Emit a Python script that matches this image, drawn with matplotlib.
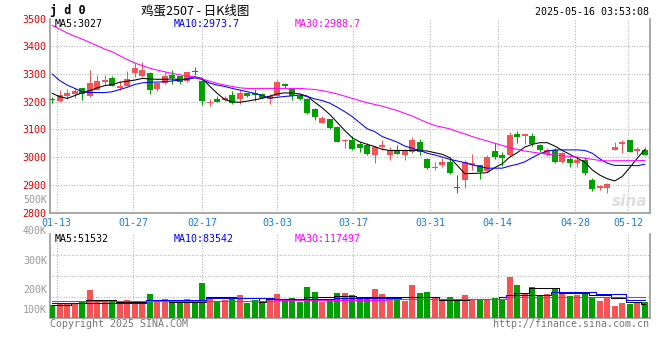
import numpy as np
import matplotlib
matplotlib.use("Agg")
import matplotlib.pyplot as plt

# daily K-line for 鸡蛋2507, 80 sessions from 01-10 to 05-15
opens = [3209, 3202, 3222, 3226, 3249, 3220, 3244, 3270, 3286, 3251,
         3258, 3303, 3291, 3303, 3246, 3268, 3297, 3291, 3276, 3310,
         3276, 3197, 3211, 3207, 3225, 3211, 3231, 3233, 3228, 3210,
         3221, 3264, 3245, 3219, 3211, 3174, 3124, 3136, 3110, 3058,
         3061, 3048, 3042, 3009, 3038, 3009, 3026, 3006, 3018, 3056,
         2994, 2960, 2973, 2984, 2890, 2916, 2972, 2970, 2949, 3022,
         3008, 3006, 3082, 3076, 3076, 3042, 3012, 3024, 2982, 2994,
         2979, 2990, 2919, 2889, 2889, 3027, 3048, 3060, 3022, 3024]
highs = [3216, 3243, 3245, 3249, 3251, 3315, 3297, 3296, 3293, 3276,
         3312, 3339, 3344, 3309, 3266, 3308, 3314, 3293, 3308, 3327,
         3282, 3210, 3221, 3221, 3240, 3243, 3233, 3245, 3231, 3228,
         3278, 3268, 3249, 3228, 3213, 3176, 3150, 3138, 3112, 3065,
         3075, 3056, 3052, 3040, 3060, 3036, 3044, 3030, 3072, 3064,
         2997, 2984, 2996, 3002, 2936, 2991, 3012, 2972, 3008, 3050,
         3018, 3090, 3096, 3084, 3088, 3048, 3032, 3032, 3018, 3000,
         3004, 3000, 2924, 2901, 2906, 3054, 3060, 3062, 3038, 3036]
lows = [3194, 3200, 3211, 3213, 3207, 3218, 3241, 3261, 3255, 3244,
        3256, 3288, 3288, 3228, 3239, 3265, 3264, 3264, 3272, 3296,
        3188, 3183, 3198, 3201, 3193, 3190, 3216, 3201, 3212, 3193,
        3219, 3249, 3205, 3205, 3154, 3134, 3122, 3102, 3054, 3033,
        3025, 3020, 3008, 2978, 3024, 2991, 3012, 2991, 3016, 3008,
        2958, 2955, 2966, 2940, 2871, 2889, 2955, 2922, 2947, 2994,
        2968, 3000, 3052, 3048, 3040, 3020, 3005, 2978, 2980, 2966,
        2966, 2936, 2879, 2883, 2871, 3024, 3015, 3020, 3006, 3006]
closes = [3207, 3225, 3230, 3240, 3227, 3266, 3276, 3280, 3258, 3258,
          3282, 3320, 3315, 3244, 3266, 3291, 3287, 3272, 3308, 3308,
          3202, 3199, 3198, 3214, 3195, 3231, 3219, 3225, 3214, 3221,
          3270, 3257, 3219, 3210, 3160, 3144, 3140, 3104, 3056, 3060,
          3030, 3032, 3012, 3036, 3045, 3026, 3012, 3022, 3060, 3020,
          2961, 2966, 2982, 2942, 2888, 2982, 2978, 2946, 3000, 3000,
          2996, 3080, 3072, 3082, 3048, 3027, 3027, 2982, 3014, 2979,
          2991, 2942, 2886, 2894, 2904, 3038, 3056, 3020, 3030, 3009]

ma5 = [3230, 3218, 3212, 3222, 3232, 3240, 3250, 3258, 3262, 3270,
       3274, 3278, 3284, 3282, 3281, 3281, 3282, 3280, 3282, 3290,
       3284, 3256, 3230, 3208, 3199, 3198, 3202, 3207, 3212, 3220,
       3228, 3232, 3231, 3228, 3220, 3198, 3178, 3154, 3125, 3096,
       3070, 3055, 3046, 3038, 3028, 3024, 3024, 3024, 3024, 3024,
       3022, 3016, 3010, 2998, 2970, 2940, 2941, 2942, 2944, 2962,
       2976, 3000, 3016, 3036, 3046, 3052, 3052, 3040, 3024, 3010,
       2996, 2982, 2954, 2935, 2922, 2914, 2930, 2962, 2996, 3027]
ma10 = [3300, 3276, 3260, 3248, 3236, 3233, 3233, 3233, 3236, 3244,
        3252, 3262, 3268, 3270, 3271, 3272, 3275, 3278, 3281, 3286,
        3280, 3267, 3260, 3255, 3248, 3242, 3236, 3230, 3222, 3213,
        3216, 3219, 3221, 3224, 3219, 3210, 3204, 3195, 3180, 3164,
        3146, 3124, 3102, 3092, 3074, 3064, 3054, 3040, 3032, 3024,
        3014, 3008, 3000, 2992, 2986, 2980, 2972, 2966, 2960, 2960,
        2960, 2968, 2974, 2983, 2998, 3012, 3022, 3026, 3026, 3026,
        3026, 3024, 3014, 2994, 2978, 2970, 2970, 2970, 2969, 2974]
ma30 = [3475, 3462, 3448, 3436, 3426, 3414, 3402, 3390, 3380, 3366,
        3352, 3340, 3330, 3321, 3314, 3308, 3302, 3297, 3293, 3289,
        3282, 3274, 3266, 3260, 3255, 3250, 3248, 3248, 3248, 3248,
        3248, 3248, 3248, 3248, 3246, 3244, 3240, 3234, 3228, 3220,
        3212, 3204, 3196, 3190, 3184, 3176, 3168, 3158, 3148, 3136,
        3124, 3114, 3108, 3102, 3092, 3084, 3074, 3066, 3058, 3050,
        3042, 3034, 3028, 3022, 3018, 3014, 3010, 3008, 3005, 3002,
        3000, 2996, 2992, 2988, 2986, 2987, 2987, 2987, 2987, 2988]

# volume (K lots, as drawn on the panel scale)
volume = [125, 129, 135, 134, 142, 202, 150, 150, 150, 142,
          150, 142, 142, 180, 149, 155, 137, 142, 155, 150,
          237, 163, 142, 150, 162, 175, 137, 150, 137, 154,
          180, 150, 162, 142, 217, 192, 142, 150, 185, 185,
          175, 164, 167, 205, 179, 164, 164, 145, 225, 184,
          190, 162, 145, 167, 145, 175, 154, 154, 154, 159,
          155, 267, 225, 184, 217, 175, 179, 212, 180, 172,
          175, 180, 167, 147, 162, 120, 137, 130, 134, 142]
vol_ma5 = [125, 125, 125, 134, 134, 150, 150, 150, 150, 142,
           142, 142, 142, 150, 150, 150, 142, 142, 142, 142,
           142, 164, 164, 164, 164, 159, 159, 159, 142, 154,
           154, 154, 154, 154, 164, 164, 164, 164, 172, 172,
           172, 167, 167, 167, 167, 167, 167, 167, 167, 167,
           167, 167, 150, 150, 150, 150, 154, 154, 154, 154,
           167, 167, 187, 187, 209, 209, 209, 209, 184, 184,
           184, 184, 175, 175, 175, 162, 162, 142, 142, 129]
vol_ma10 = [134, 134, 134, 134, 137, 137, 137, 137, 137, 137,
            137, 137, 137, 150, 150, 150, 150, 150, 150, 150,
            150, 159, 159, 159, 159, 159, 159, 159, 159, 159,
            155, 155, 155, 155, 155, 155, 155, 155, 162, 162,
            162, 162, 162, 162, 162, 162, 162, 155, 155, 155,
            155, 155, 155, 155, 155, 155, 155, 155, 155, 155,
            155, 175, 175, 175, 175, 175, 175, 192, 192, 192,
            192, 192, 192, 179, 179, 179, 179, 150, 150, 150]
vol_ma30 = [145, 145, 145, 145, 145, 145, 145, 145, 145, 145,
            145, 145, 145, 145, 145, 145, 145, 145, 145, 145,
            145, 145, 145, 145, 145, 145, 145, 145, 145, 145,
            152, 152, 152, 152, 152, 152, 152, 152, 152, 152,
            152, 152, 152, 152, 152, 155, 155, 155, 155, 155,
            155, 155, 155, 155, 155, 155, 155, 155, 155, 155,
            155, 167, 167, 167, 167, 167, 167, 167, 167, 167,
            167, 167, 167, 167, 167, 167, 167, 167, 167, 167]

date_labels = ['01-13', '01-27', '02-17', '03-03', '03-17', '03-31', '04-14', '04-28', '05-12']
date_pos = [0.6, 10.8, 20.0, 30.0, 40.1, 50.4, 59.4, 69.7, 76.8]
price_ticks = [2800, 2900, 3000, 3100, 3200, 3300, 3400, 3500]

RED = '#f45454'
GREEN = '#00a000'
GRID = '#a8a8a8'
MONO = 'DejaVu Sans Mono'

W, H = 660, 360
fig = plt.figure(figsize=(W / 100, H / 100), dpi=100)
fig.patch.set_facecolor('white')


def fx(px):
    return px / W


def fy(py):
    return 1 - py / H


def ptext(x, y, s, **kw):
    kw.setdefault('family', MONO)
    kw.setdefault('fontsize', 7.2)
    kw.setdefault('va', 'center')
    fig.text(fx(x), fy(y), s, **kw)


ax = fig.add_axes([fx(50), fy(212.5), 600 / W, (212.5 - 18.6) / H])
axv = fig.add_axes([fx(50), fy(318.3), 600 / W, (318.3 - 234) / H])

o = np.array(opens, float)
c = np.array(closes, float)
x = np.arange(len(o))
up = c >= o
colors = np.where(up, RED, GREEN)

# candles
ax.vlines(x, lows, highs, colors=colors, linewidth=0.72, zorder=3)
body_lo = np.minimum(o, c)
body_h = np.maximum(np.abs(c - o), 2.5)
ax.bar(x, body_h, bottom=body_lo, width=0.8, color=colors, linewidth=0, zorder=4)

ax.plot(x, ma5, color='black', lw=0.75, zorder=5)
ax.plot(x, ma10, color='#0000ff', lw=0.75, zorder=5)
ax.plot(x, ma30, color='#ff00ff', lw=0.75, zorder=5)

ax.set_xlim(-0.3, 79.7)
ax.set_ylim(2800, 3500)
ax.set_yticks(price_ticks)
ax.set_yticklabels([str(t) for t in price_ticks], color='#e00000', family=MONO, fontsize=7.2)
ax.set_xticks(date_pos)
ax.set_xticklabels(date_labels, color='#1a7fd4', family=MONO, fontsize=7.2)
ax.tick_params(length=0, pad=3)
ax.tick_params(axis='x', pad=4)
ax.grid(True, color=GRID, linestyle=(0, (0.8, 1.6)), linewidth=0.8)
ax.yaxis.get_gridlines()[-1].set_visible(False)
ax.set_axisbelow(True)

# volume panel
vlo, vhi = 60, 480
axv.bar(x, volume, width=0.8, color=colors, linewidth=0, zorder=3)
axv.plot(x, vol_ma5, color='black', lw=0.75, drawstyle='steps-mid', zorder=4)
axv.plot(x, vol_ma10, color='#0000ff', lw=0.75, drawstyle='steps-mid', zorder=4)
axv.plot(x, vol_ma30, color='#ff00ff', lw=0.75, drawstyle='steps-mid', zorder=4)
axv.set_xlim(-0.3, 79.7)
axv.set_ylim(vlo, vhi)
axv.set_yticks(np.linspace(vlo, vhi, 5)[1:4])
axv.set_yticklabels([])
axv.set_xticks(date_pos)
axv.set_xticklabels([])
axv.tick_params(length=0)
axv.grid(True, color=GRID, linestyle=(0, (0.8, 1.6)), linewidth=0.8)
axv.set_axisbelow(True)

for a in (ax, axv):
    a.spines['top'].set_visible(False)
    for s in ('left', 'bottom', 'right'):
        a.spines[s].set_color('#999999')
        a.spines[s].set_linewidth(1.2)

# header
ptext(50, 10.5, 'j d 0', fontsize=8.5, fontweight='bold')
ptext(141, 10.5, '鸡蛋2507 - 日K线图', family=['Noto Sans CJK SC', 'DejaVu Sans'], fontsize=9)
ptext(649, 12, '2025-05-16 03:53:08', ha='right')

# MA captions
ptext(55, 24, 'MA5:3027', color='black')
ptext(174, 24, 'MA10:2973.7', color='#0000ff')
ptext(295, 24, 'MA30:2988.7', color='#ff00ff')
ptext(55, 238.5, 'MA5:51532', color='black')
ptext(174, 238.5, 'MA10:83542', color='#0000ff')
ptext(295, 238.5, 'MA30:117497', color='#ff00ff')

# volume scale labels
for lab, yy in [('500K', 200), ('400K', 231), ('300K', 261), ('200K', 290), ('100K', 310)]:
    ptext(47, yy, lab, color='#999999', ha='right')

ptext(50, 324, 'Copyright 2025 SINA.COM', color='#777777')
ptext(649, 324, 'http://finance.sina.com.cn', color='#777777', ha='right')
ptext(647, 202, 'sina', color='#dddddd', fontsize=11, fontweight='bold',
      style='italic', family='DejaVu Sans', ha='right')

fig.savefig('out.png', dpi=100)
